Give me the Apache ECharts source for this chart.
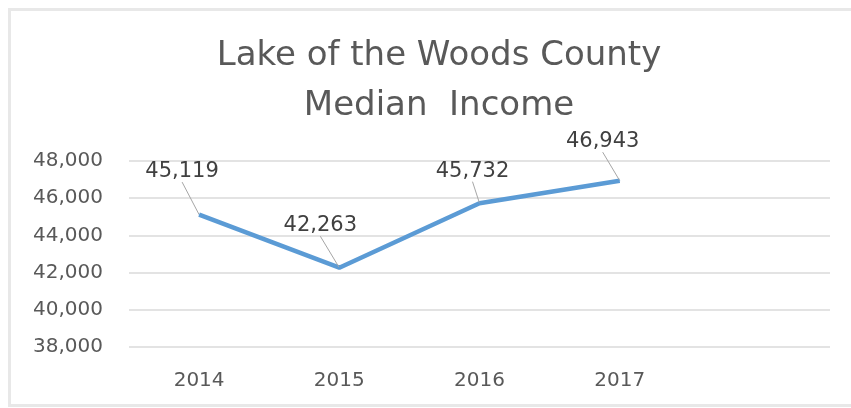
<!DOCTYPE html>
<html>
<head>
<meta charset="utf-8">
<title>Lake of the Woods County Median Income</title>
<script src="https://cdn.jsdelivr.net/npm/echarts@6/dist/echarts.min.js"></script>
<style>
  html, body { margin: 0; padding: 0; background: #fff; }
  #main { width: 851px; height: 408px; }
</style>
</head>
<body>
<div id="main"></div>
<script>
// data
var years = ["2014", "2015", "2016", "2017", ""];
var medianIncome = [45119, 42263, 45732, 46943];
var yTicks = [38000, 48000, 2000]; // min, max, interval

// where each value label sits relative to its point (px)
var labelShift = [[-17, -43], [-19, -42], [-7, -32], [-17, -39]];

var chart = echarts.init(document.getElementById("main"));

var fmt = function (v) {
  return v.toLocaleString("en-US");
};

var option = {
  animation: false,
  backgroundColor: "#fff",
  textStyle: { fontFamily: "DejaVu Sans" },
  graphic: [{
    type: "rect",
    shape: { x: 9.5, y: 9.5, width: 900, height: 396 },
    style: { fill: null, stroke: "#e8e8e8", lineWidth: 3 },
    silent: true
  }],
  title: {
    text: "Lake of the Woods County\nMedian  Income",
    left: 439,
    textAlign: "center",
    top: 31,
    padding: 0,
    textStyle: {
      fontFamily: "DejaVu Sans",
      fontSize: 34,
      fontWeight: "normal",
      color: "#595959",
      lineHeight: 50
    }
  },
  grid: { left: 129, right: 21, top: 161, bottom: 61, containLabel: false },
  xAxis: {
    type: "category",
    data: years,
    boundaryGap: true,
    axisLine: { show: false },
    axisTick: { show: false },
    axisLabel: { color: "#595959", fontSize: 20, margin: 24 }
  },
  yAxis: {
    type: "value",
    min: yTicks[0],
    max: yTicks[1],
    interval: yTicks[2],
    axisLine: { show: false },
    axisTick: { show: false },
    axisLabel: { color: "#595959", fontSize: 20, margin: 26, formatter: fmt },
    splitLine: { lineStyle: { color: "#e3e3e3", width: 2 } }
  },
  series: [{
    type: "line",
    data: medianIncome,
    symbol: "circle",
    symbolSize: 1,
    showSymbol: true,
    itemStyle: { color: "#5b9bd5" },
    lineStyle: { color: "#5b9bd5", width: 4.5 },
    label: {
      show: true,
      position: "inside",
      color: "#404040",
      fontSize: 21,
      formatter: function (p) { return fmt(p.value); }
    },
    labelLine: {
      show: true,
      lineStyle: { color: "#a6a6a6", width: 1 }
    },
    labelLayout: function (p) {
      var s = labelShift[p.dataIndex] || [0, 0];
      return { dx: s[0], dy: s[1] };
    }
  }]
};

chart.setOption(option);
</script>
</body>
</html>
